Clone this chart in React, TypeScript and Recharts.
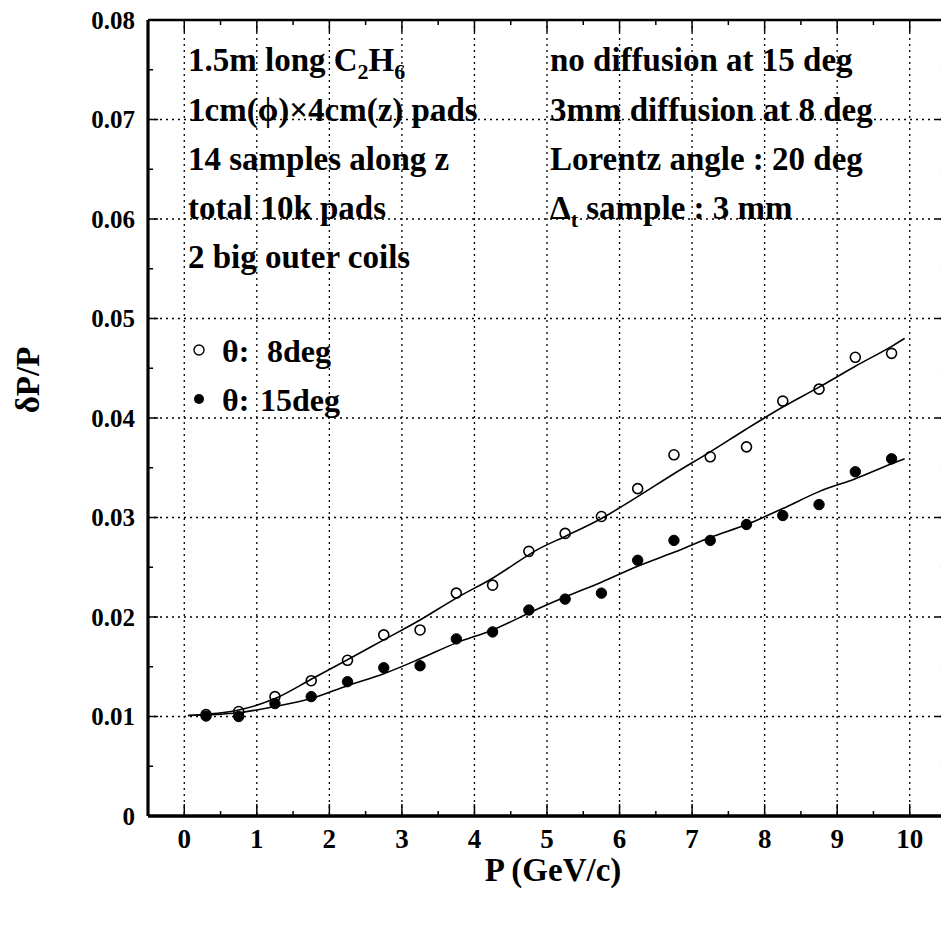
import {
  ComposedChart,
  Line,
  Scatter,
  XAxis,
  YAxis,
  CartesianGrid,
  ReferenceLine,
} from 'recharts';

// measured points, P in GeV/c
const momentum = [0.3, 0.75, 1.25, 1.75, 2.25, 2.75, 3.25, 3.75, 4.25, 4.75, 5.25, 5.75, 6.25, 6.75, 7.25, 7.75, 8.25, 8.75, 9.25, 9.75];
const dp8deg = [0.0102, 0.0105, 0.012, 0.0136, 0.01565, 0.0182, 0.0187, 0.0224, 0.0232, 0.0266, 0.0284, 0.0301, 0.0329, 0.0363, 0.0361, 0.0371, 0.0417, 0.0429, 0.0461, 0.0465];
const dp15deg = [0.01005, 0.01, 0.0113, 0.012, 0.0135, 0.0149, 0.0151, 0.0178, 0.0185, 0.0207, 0.0218, 0.0224, 0.0257, 0.0277, 0.0277, 0.0293, 0.0302, 0.0313, 0.0346, 0.0359];

// fitted curves
const fitP = [0.05, 0.75, 1.25, 1.75, 2.25, 2.75, 3.25, 3.75, 4.25, 4.9, 5.25, 5.75, 6.25, 6.75, 7.25, 7.75, 8.25, 8.75, 9.25, 9.75, 9.93];
const fit8deg = [0.0101, 0.01065, 0.0118, 0.01374, 0.0157, 0.0177, 0.0197, 0.0219, 0.0239, 0.0269, 0.0281, 0.0299, 0.0321, 0.0344, 0.0366, 0.0389, 0.0411, 0.0431, 0.0452, 0.0472, 0.048];
const fit15deg = [0.0101, 0.01038, 0.011, 0.0118, 0.0131, 0.0143, 0.0158, 0.0174, 0.0187, 0.0209, 0.022, 0.0235, 0.0251, 0.0265, 0.028, 0.0293, 0.0309, 0.0326, 0.0339, 0.0354, 0.0359];

const xTicks = [0, 1, 2, 3, 4, 5, 6, 7, 8, 9, 10];
const xMinor = [0.5, 1.5, 2.5, 3.5, 4.5, 5.5, 6.5, 7.5, 8.5, 9.5];
const yTicks = [0, 0.01, 0.02, 0.03, 0.04, 0.05, 0.06, 0.07, 0.08];
const yMinor = [0.005, 0.015, 0.025, 0.035, 0.045, 0.055, 0.065, 0.075];

const leftNotes = ['1.5m long C', '1cm(ϕ)×4cm(z) pads', '14 samples along z', 'total 10k pads', '2 big outer coils'];
const rightNotes = ['no diffusion at 15 deg', '3mm diffusion at 8 deg', 'Lorentz angle : 20 deg', 'Δ'];

const pts8 = momentum.map((x, i) => ({ x, y: dp8deg[i] }));
const pts15 = momentum.map((x, i) => ({ x, y: dp15deg[i] }));
const curve8 = fitP.map((x, i) => ({ x, y: fit8deg[i] }));
const curve15 = fitP.map((x, i) => ({ x, y: fit15deg[i] }));

const FONT = '"Liberation Serif", "Times New Roman", serif';
const X0 = -0.5;
const X1 = 10.5;
const Y0 = 0;
const Y1 = 0.08;

function OpenDot(p: any) {
  return <circle cx={p.cx} cy={p.cy} r={5} fill="none" stroke="#000" strokeWidth={1.6} />;
}
function FullDot(p: any) {
  return <circle cx={p.cx} cy={p.cy} r={5.2} fill="#000" stroke="#000" />;
}

function Notes() {
  const base = [71, 121, 170, 219, 268];
  return (
    <g fontFamily={FONT} fontWeight="bold" fill="#000">
      {leftNotes.map((t, i) => (
        <text key={'l' + i} x={188} y={base[i]} fontSize={33}>
          {t}
          {i === 0 && (
            <>
              <tspan fontSize={22} dy={8}>2</tspan>
              <tspan dy={-8}>H</tspan>
              <tspan fontSize={22} dy={8}>6</tspan>
            </>
          )}
        </text>
      ))}
      {rightNotes.map((t, i) => (
        <text key={'r' + i} x={550} y={base[i]} fontSize={33}>
          {t}
          {i === 3 && (
            <>
              <tspan fontSize={22} dy={8}>t</tspan>
              <tspan dy={-8}> sample : 3 mm</tspan>
            </>
          )}
        </text>
      ))}
      <circle cx={199} cy={350} r={5} fill="none" stroke="#000" strokeWidth={1.4} />
      <text x={222} y={362} fontSize={32}>
        θ:<tspan x={267}>8deg</tspan>
      </text>
      <circle cx={199} cy={399} r={5} fill="#000" />
      <text x={222} y={411} fontSize={32}>
        θ:<tspan x={260}>15deg</tspan>
      </text>
      <text x={553} y={881} fontSize={33} textAnchor="middle">P (GeV/c)</text>
      <text
        x={28}
        y={380}
        fontSize={33}
        textAnchor="middle"
        dominantBaseline="central"
        transform="rotate(-90 28 380)"
      >
        δP/P
      </text>
    </g>
  );
}

export default function App() {
  const xTickStyle = { fontSize: 27, fontWeight: 'bold', fill: '#000', fontFamily: FONT };
  const yTickStyle = { fontSize: 25, fontWeight: 'bold', fill: '#000', fontFamily: FONT };
  const seg = (a: [number, number], b: [number, number], k: string, w = 1.5) => (
    <ReferenceLine key={k} segment={[{ x: a[0], y: a[1] }, { x: b[0], y: b[1] }]} stroke="#000" strokeWidth={w} />
  );
  return (
    <div style={{ position: 'absolute', left: 0, top: 0, width: 941, height: 927, overflow: 'hidden', background: '#fff' }}>
      <ComposedChart width={960} height={927} margin={{ top: 20, right: 14, bottom: 0, left: 0 }}>
        <CartesianGrid stroke="#000" strokeWidth={1.3} strokeDasharray="2 4" />
        <XAxis
          dataKey="x"
          type="number"
          domain={[X0, X1]}
          ticks={xTicks}
          allowDataOverflow
          height={111}
          axisLine={false}
          tickLine={false}
          tickSize={0}
          tickMargin={13}
          tick={xTickStyle}
        />
        <YAxis
          type="number"
          domain={[Y0, Y1]}
          ticks={yTicks}
          allowDataOverflow
          width={148}
          axisLine={false}
          tickLine={false}
          tickSize={0}
          tickMargin={13}
          tick={yTickStyle}
          tickFormatter={(v: number) => (v === 0 ? '0' : v.toFixed(2))}
        />
        {xTicks.map((x) => seg([x, Y0], [x, 0.0012], 'bx' + x))}
        {xTicks.map((x) => seg([x, Y1], [x, Y1 - 0.0012], 'tx' + x))}
        {xMinor.map((x) => seg([x, Y0], [x, 0.0005], 'bm' + x))}
        {xMinor.map((x) => seg([x, Y1], [x, Y1 - 0.0005], 'tm' + x))}
        {yTicks.map((y) => seg([X0, y], [X0 + 0.14, y], 'ly' + y))}
        {yTicks.map((y) => seg([X1, y], [X1 - 0.14, y], 'ry' + y))}
        {yMinor.map((y) => seg([X0, y], [X0 + 0.07, y], 'lm' + y))}
        {yMinor.map((y) => seg([X1, y], [X1 - 0.07, y], 'rm' + y))}
        <ReferenceLine x={X0} stroke="#000" strokeWidth={3.2} />
        <ReferenceLine y={Y0} stroke="#000" strokeWidth={3.5} />
        <ReferenceLine y={Y1} stroke="#000" strokeWidth={2.6} />
        <ReferenceLine x={X1} stroke="#000" strokeWidth={2.6} />
        <Line data={curve8} dataKey="y" type="monotone" stroke="#000" strokeWidth={1.6} dot={false} isAnimationActive={false} />
        <Line data={curve15} dataKey="y" type="monotone" stroke="#000" strokeWidth={1.6} dot={false} isAnimationActive={false} />
        <Scatter data={pts8} dataKey="y" shape={OpenDot} isAnimationActive={false} />
        <Scatter data={pts15} dataKey="y" shape={FullDot} isAnimationActive={false} />
        <Notes />
      </ComposedChart>
    </div>
  );
}
